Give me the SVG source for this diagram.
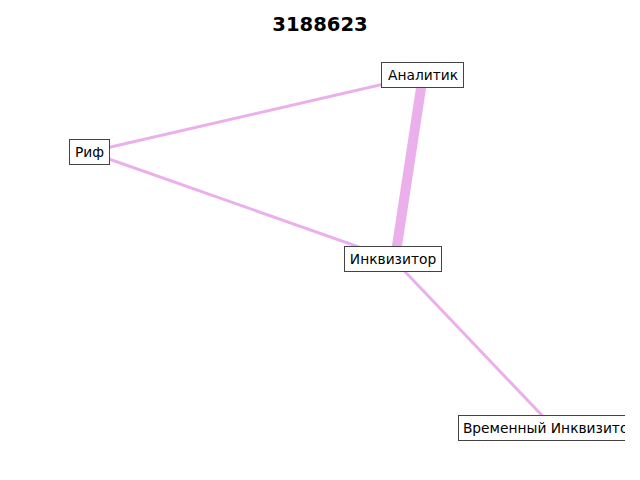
<svg xmlns="http://www.w3.org/2000/svg" width="640" height="480" viewBox="0 0 640 480">
  <defs>
    <clipPath id="plotArea">
      <rect x="0" y="0" width="625" height="480"/>
    </clipPath>
  </defs>
  <style>
    .edge { stroke: #ebb0eb; stroke-linecap: butt; fill: none; }
    .box { fill: #ffffff; stroke: #444444; stroke-width: 1; }
    .label { font-family: "DejaVu Sans", sans-serif; font-size: 13.8px; fill: #000000; text-anchor: middle; }
    .title { font-family: "DejaVu Sans", sans-serif; font-size: 19.6px; font-weight: bold; fill: #000000; text-anchor: middle; }
  </style>
  <rect width="640" height="480" fill="#ffffff"/>
  <text class="title" x="320" y="31">3188623</text>
  <g clip-path="url(#plotArea)">
    <g id="connectors">
      <line class="edge" x1="89" y1="152" x2="423" y2="75" stroke-width="3"/>
      <line class="edge" x1="89" y1="152" x2="393" y2="259" stroke-width="3"/>
      <line class="edge" x1="423" y1="75" x2="395" y2="259" stroke-width="10"/>
      <line class="edge" x1="393" y1="259" x2="554" y2="428" stroke-width="3"/>
    </g>
    <g id="node-analitik">
      <rect class="box" x="381.5" y="62.5" width="82" height="25"/>
      <text class="label" x="423" y="80">Аналитик</text>
    </g>
    <g id="node-rif">
      <rect class="box" x="69.5" y="139.5" width="40" height="25"/>
      <text class="label" x="89.5" y="157">Риф</text>
    </g>
    <g id="node-inkvizitor">
      <rect class="box" x="344.5" y="246.5" width="97" height="25"/>
      <text class="label" x="393" y="264">Инквизитор</text>
    </g>
    <g id="node-vremennyi">
      <rect class="box" x="458.5" y="415.5" width="190" height="25"/>
      <text class="label" x="550" y="433">Временный Инквизитор</text>
    </g>
  </g>
</svg>
